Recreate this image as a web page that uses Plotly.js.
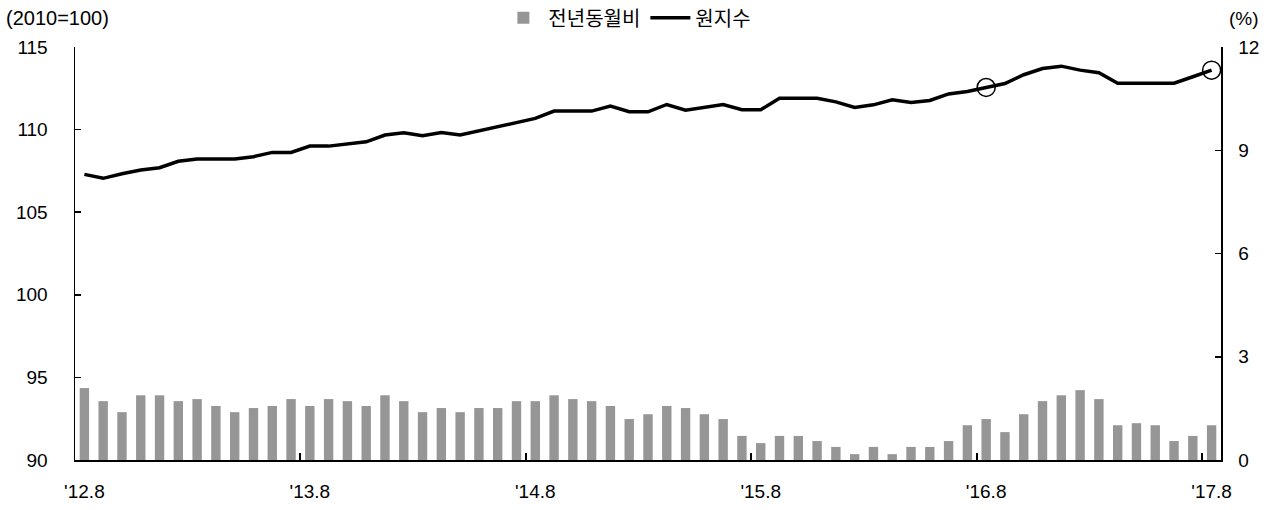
<!DOCTYPE html>
<html>
<head>
<meta charset="utf-8">
<script src="https://cdn.plot.ly/plotly-3.0.1.min.js"></script>
<style>html,body{margin:0;padding:0;background:#fff;}#chart{width:1277px;height:510px;}</style>
</head>
<body>
<div id="chart"></div>
<script>
// Months from 2012.8 to 2017.8
const months = [
  "12.8","12.9","12.10","12.11","12.12",
  "13.1","13.2","13.3","13.4","13.5","13.6","13.7","13.8","13.9","13.10","13.11","13.12",
  "14.1","14.2","14.3","14.4","14.5","14.6","14.7","14.8","14.9","14.10","14.11","14.12",
  "15.1","15.2","15.3","15.4","15.5","15.6","15.7","15.8","15.9","15.10","15.11","15.12",
  "16.1","16.2","16.3","16.4","16.5","16.6","16.7","16.8","16.9","16.10","16.11","16.12",
  "17.1","17.2","17.3","17.4","17.5","17.6","17.7","17.8"
];
// 원지수 (2010=100), left axis
const indexValues = [
  107.29,107.05,107.33,107.55,107.69,108.08,108.22,108.22,108.22,108.36,108.62,108.62,
  109.00,109.00,109.14,109.26,109.67,109.81,109.63,109.83,109.67,109.91,110.17,110.41,
  110.68,111.12,111.12,111.12,111.42,111.08,111.08,111.52,111.18,111.34,111.52,111.20,
  111.20,111.90,111.90,111.90,111.68,111.34,111.50,111.80,111.64,111.76,112.16,112.31,
  112.55,112.79,113.32,113.70,113.84,113.60,113.44,112.81,112.81,112.81,112.81,113.20,
  113.60
];
// 전년동월비 (%), right axis
const yoyValues = [
  2.09,1.71,1.39,1.88,1.88,1.71,1.77,1.57,1.39,1.51,1.57,1.77,
  1.57,1.77,1.71,1.57,1.88,1.71,1.39,1.51,1.39,1.51,1.51,1.71,
  1.71,1.88,1.77,1.71,1.57,1.19,1.33,1.57,1.51,1.33,1.19,0.70,
  0.49,0.70,0.70,0.55,0.38,0.17,0.38,0.17,0.38,0.38,0.55,1.01,
  1.19,0.81,1.33,1.71,1.88,2.03,1.77,1.01,1.07,1.01,0.55,0.70,
  1.01
];
// Highlighted points (circled)
const highlightMonths = ["16.8","17.8"];
// X-axis labels shown every 12 months
const labelMonths = ["12.8","13.8","14.8","15.8","16.8","17.8"];
const tickTexts = ["'12.8","'13.8","'14.8","'15.8","'16.8","'17.8"];

const xIdx = months.map((m, i) => i);
const labelIdx = labelMonths.map(m => months.indexOf(m));
const boundaryIdx = labelIdx.slice(1).map(i => i - 0.5);
const hiIdx = highlightMonths.map(m => months.indexOf(m));
const hiVals = hiIdx.map(i => indexValues[i]);

const numFont = {family: "Liberation Sans, Arial, sans-serif", size: 19, color: "#000"};

const traces = [
  {
    type: "bar", name: "전년동월비", x: xIdx, y: yoyValues,
    xaxis: "x2", yaxis: "y2",
    marker: {color: "#969696", line: {width: 0}},
    width: 0.5, hoverinfo: "skip"
  },
  {
    type: "scatter", mode: "lines", name: "원지수", x: xIdx, y: indexValues,
    xaxis: "x", yaxis: "y",
    line: {color: "#000", width: 3.5}, hoverinfo: "skip"
  },
  {
    type: "scatter", mode: "markers", x: hiIdx, y: hiVals, showlegend: false,
    xaxis: "x", yaxis: "y",
    marker: {symbol: "circle-open", size: 18, color: "#000", line: {width: 1.5, color: "#000"}},
    hoverinfo: "skip"
  }
];

const layout = {
  width: 1277, height: 510,
  margin: {l: 75, r: 56, t: 47, b: 50, autoexpand: false},
  paper_bgcolor: "#fff", plot_bgcolor: "#fff",
  showlegend: true,
  legend: {
    orientation: "h", x: 0.482, xanchor: "center",
    yref: "container", y: 0.965, yanchor: "middle",
    font: {family: "Noto Sans CJK KR, sans-serif", size: 20, color: "#000"},
    itemwidth: 40, tracegroupgap: 0, bgcolor: "rgba(0,0,0,0)"
  },
  xaxis: {
    range: [-0.5, 60.5], tickmode: "array", tickvals: labelIdx, ticktext: tickTexts,
    ticks: "", showgrid: false, zeroline: false,
    showline: true, linecolor: "#000", linewidth: 2,
    tickfont: numFont, ticklabelstandoff: 13
  },
  xaxis2: {
    overlaying: "x", range: [-0.5, 60.5], tickmode: "array", tickvals: boundaryIdx,
    ticks: "inside", ticklen: 7, tickwidth: 2, tickcolor: "#000",
    showticklabels: false, showgrid: false, zeroline: false, showline: false
  },
  yaxis: {
    range: [90, 115], tickmode: "linear", tick0: 90, dtick: 5,
    ticks: "inside", ticklen: 6, tickwidth: 1.5, tickcolor: "#000",
    showgrid: false, zeroline: false, showline: true, linecolor: "#000", linewidth: 1.5,
    tickfont: numFont, ticklabelstandoff: 22
  },
  yaxis2: {
    overlaying: "y", side: "right", range: [0, 12], tickmode: "linear", tick0: 0, dtick: 3,
    ticks: "inside", ticklen: 6, tickwidth: 1.5, tickcolor: "#000",
    showgrid: false, zeroline: false, showline: true, linecolor: "#000", linewidth: 1.5,
    tickfont: numFont, ticklabelstandoff: 12
  },
  annotations: [
    {text: "(2010=100)", xref: "paper", yref: "paper", x: -0.062, y: 1.07, xanchor: "left", yanchor: "middle",
     showarrow: false, font: {family: "Liberation Sans, Arial, sans-serif", size: 20, color: "#000"}},
    {text: "(%)", xref: "paper", yref: "paper", x: 1.005, y: 1.07, xanchor: "left", yanchor: "middle",
     showarrow: false, font: {family: "Liberation Sans, Arial, sans-serif", size: 19, color: "#000"}}
  ]
};

Plotly.newPlot("chart", traces, layout, {displayModeBar: false, staticPlot: true});
</script>
</body>
</html>
